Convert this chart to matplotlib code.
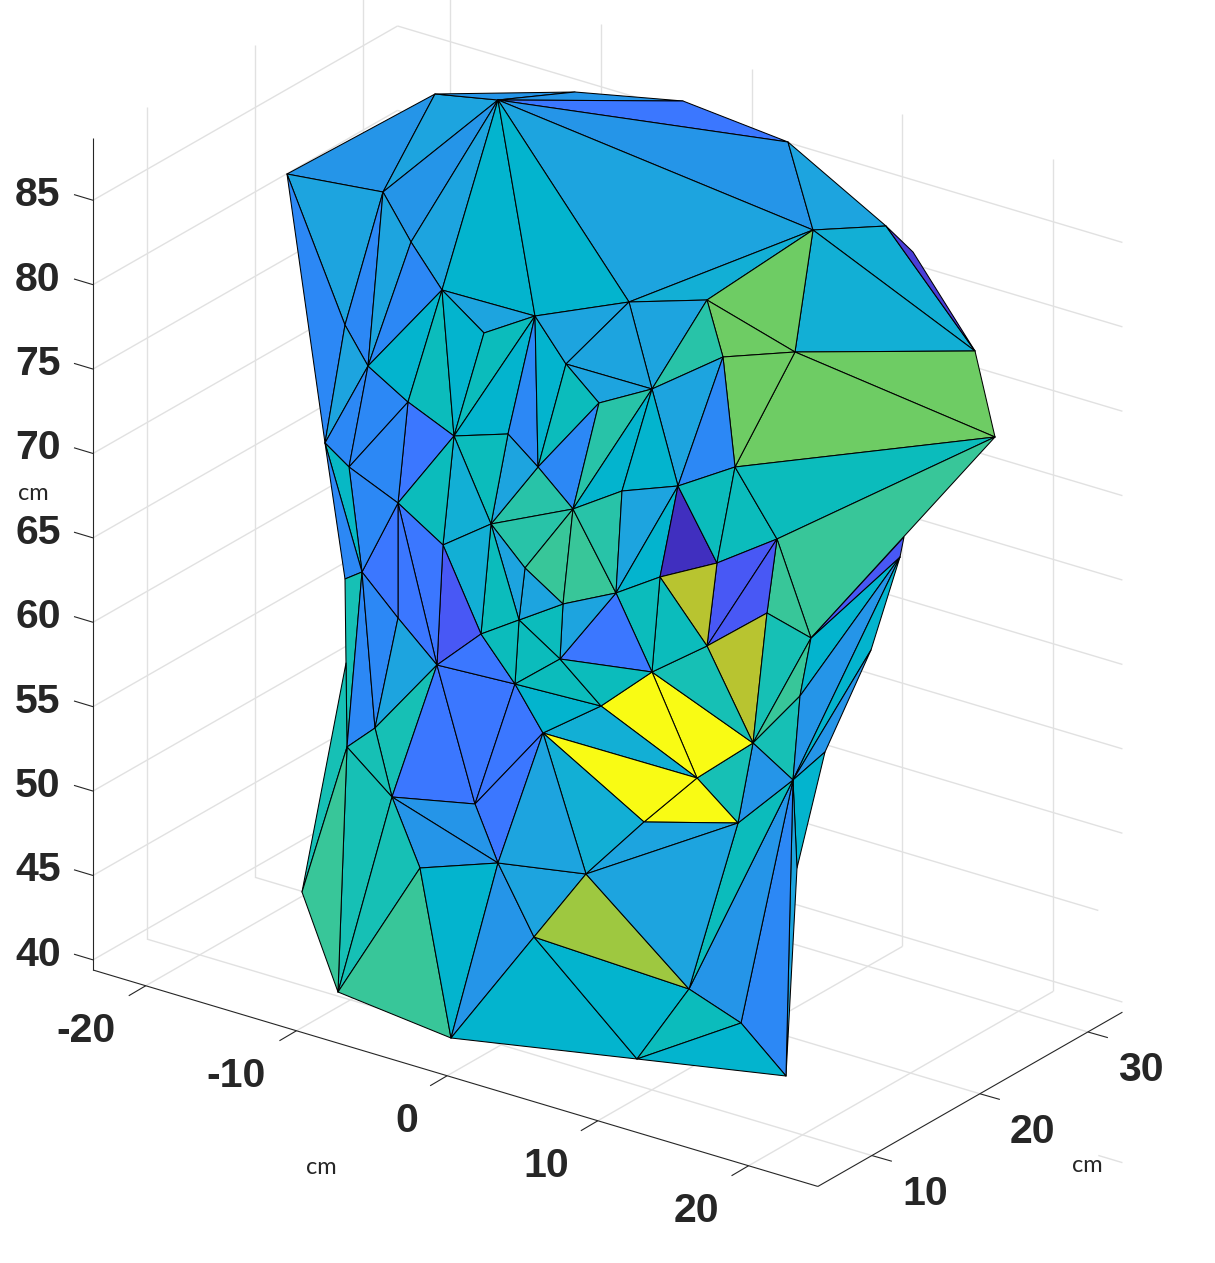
import numpy as np
import matplotlib
matplotlib.use("Agg")
import matplotlib.pyplot as plt
from matplotlib.colors import LinearSegmentedColormap

# Surface nodes (projected view coordinates)
node_x = [287,435,498,575,683,788,813,886,913,975,995,795,707,629,723,735,383,411,442,345,368,535,484,566,599,652,
          325,349,408,454,508,538,398,491,573,622,678,443,525,362,345,398,481,519,563,616,660,717,777,904,900,767,
          811,707,652,560,515,437,346,375,347,392,475,543,601,697,753,800,871,825,793,738,644,498,420,586,302,534,
          797,689,741,338,451,637,786]
node_y = [174,94,100,92,101,142,230,226,252,351,437,352,300,302,357,467,192,242,290,325,366,316,333,364,403,389,
          443,467,402,436,434,467,503,524,509,491,486,545,568,572,579,618,634,620,604,593,577,563,539,537,557,613,
          638,646,672,659,684,665,663,728,747,797,804,733,706,778,743,696,650,752,780,823,822,863,868,874,892,937,
          868,989,1023,992,1038,1059,1076]

triangles = [
 (0,1,16),(1,2,16),(1,2,3),(2,3,4),(2,4,5),(2,5,6),(2,6,13),(6,12,13),(5,7,6),(6,7,9),(7,8,9),(6,9,11),
 (6,11,12),(12,11,14),(11,9,10),(11,10,15),(11,15,14),(13,12,25),(12,14,25),(25,14,36),(14,15,36),
 (16,2,17),(17,2,18),(18,2,21),(21,2,13),(18,21,22),(0,16,19),(0,19,26),(16,20,19),(16,17,20),(17,18,20),
 (19,20,26),(26,20,27),(20,28,27),(20,18,28),(18,29,28),(18,22,29),(22,21,29),(21,30,29),(21,31,30),
 (21,23,31),(21,13,23),(23,13,25),(23,25,24),(23,24,31),(24,34,31),(24,25,34),(25,35,34),(25,36,35),
 (31,34,33),(30,31,33),(29,30,33),(29,33,37),(28,29,32),(27,28,32),(32,29,37),(33,34,38),(34,44,38),
 (34,45,44),(34,35,45),(35,36,45),(36,46,45),(36,47,46),(36,15,47),(15,48,47),(15,10,48),(48,10,52),
 (48,52,51),(47,48,53),(48,51,53),(46,47,53),(53,51,66),(51,52,66),(52,67,66),(66,67,70),(52,50,67),
 (52,49,50),(67,50,70),(70,50,68),(70,68,69),(70,69,78),(70,78,84),(70,84,80),(70,80,79),(70,79,71),
 (66,70,71),(65,66,71),(65,71,72),(54,66,65),(64,54,65),(63,64,65),(63,65,72),(53,66,54),(46,53,54),
 (45,46,54),(45,54,55),(44,45,55),(43,44,55),(43,55,56),(38,44,43),(33,38,43),(33,43,42),(37,33,42),
 (37,42,57),(32,37,57),(32,57,41),(39,32,41),(27,32,39),(26,27,39),(26,39,40),(40,39,60),(58,60,76),
 (39,59,60),(39,41,59),(41,57,59),(59,57,61),(60,59,61),(57,62,61),(57,56,62),(57,42,56),(42,43,56),
 (56,63,62),(62,63,73),(61,62,73),(61,73,74),(60,61,81),(61,74,81),(74,82,81),(76,60,81),(74,73,82),
 (73,77,82),(73,75,77),(82,77,83),(77,79,83),(75,79,77),(63,72,75),(63,75,73),(56,64,63),(56,55,64),
 (55,54,64),(75,72,71),(75,71,79),(79,80,83),(80,84,83),
]
face_values = [
 .26,.30,.26,.26,.17,.26,.30,.33,.30,.33,.09,.33,
 .60,.60,.60,.60,.60,.30,.47,.30,.22,
 .26,.30,.36,.36,.30,.30,.22,.22,.30,.22,
 .30,.22,.22,.36,.40,.36,.40,.36,.22,
 .36,.30,.30,.30,.40,.22,.47,.36,.36,
 .47,.30,.40,.33,.17,.22,.40,.47,.50,
 .50,.47,.30,.36,.05,.40,.40,.40,.50,
 .50,.13,.13,.80,.80,.43,.50,.43,.36,
 .13,.26,.36,.26,.36,.30,.22,.26,.40,
 .26,.43,1.0,1.0,1.0,.33,1.0,.43,.40,
 .40,.17,.30,.40,.40,.30,.30,.40,.33,
 .13,.17,.17,.17,.22,.38,.22,.43,.43,
 .22,.22,.30,.43,.43,.17,.17,.17,.40,
 .17,.17,.26,.26,.43,.43,.50,.50,.36,
 .26,.30,.36,.36,.72,.33,.30,.36,.40,
 .40,.30,.30,.40,.36,
]

x_ticks = [-20, -10, 0, 10, 20]
y_ticks = [10, 20, 30]
z_ticks = [40, 45, 50, 55, 60, 65, 70, 75, 80, 85]
x_limits = (-23.5, 24.6)
y_limits = (5.0, 33.2)
z_limits = (39.4, 88.7)
axis_unit = "cm"

# Colour scale (parula-like)
cmap_pos = [0, .05, .09, .13, .17, .22, .26, .30, .33, .36, .40, .43, .47, .50, .60, .72, .80, 1]
cmap_col = ["#3E26A8", "#4030C0", "#4A3FD8", "#4858F5", "#3B78FF", "#2C88F5", "#2595E8", "#1DA5DF", "#12AFD5",
            "#03B4CE", "#0BBCBC", "#15C0B5", "#28C3A8", "#37C69A", "#6ECC64", "#9DC840", "#B8C430", "#F9FB14"]
parula = LinearSegmentedColormap.from_list("parula_like", list(zip(cmap_pos, cmap_col)))

W, H = 1215, 1263
fig = plt.figure(figsize=(W / 100, H / 100), dpi=100)
ax = fig.add_axes([0, 0, 1, 1])
ax.set_xlim(0, W)
ax.set_ylim(H, 0)
ax.axis("off")

def proj(x, y, z):
    sx = 93 + (x - x_limits[0]) * 15.07 + (y - y_limits[0]) * 10.8
    sy = 970 + (x - x_limits[0]) * 4.5 - (y - y_limits[0]) * 6.18 - (z - z_limits[0]) * 16.88
    return sx, sy

def seg(p, q, **kw):
    ax.plot([p[0], q[0]], [p[1], q[1]], solid_capstyle="butt", **kw)

GRID = dict(color="#E1E1E1", lw=1.0, zorder=1)
x0, x1 = x_limits
y0, y1 = y_limits
z0, z1 = z_limits
for x in x_ticks:
    seg(proj(x, y0, z0), proj(x, y1, z0), **GRID)
    seg(proj(x, y1, z0), proj(x, y1, z1), **GRID)
for y in y_ticks:
    seg(proj(x1, y, z0), proj(x0, y, z0), **GRID)
    seg(proj(x0, y, z0), proj(x0, y, z1), **GRID)
for z in z_ticks:
    seg(proj(x0, y0, z), proj(x0, y1, z), **GRID)
    # the 45 line stops short of the right edge; its last piece sits lower in the reference
    xe = x1 - 1.6 if z == 45 else x1
    seg(proj(x0, y1, z), proj(xe, y1, z), **GRID)
p, q = proj(x1 - 1.6, y1, 45), proj(x1, y1, 45)
seg((p[0], p[1] + 245), (q[0], q[1] + 245), **GRID)

AX = dict(color="#262626", lw=0.8, zorder=2)
seg(proj(x0, y0, z0), proj(x0, y0, z1), **AX)
seg(proj(x0, y0, z0), proj(x1, y0, z0), **AX)
seg(proj(x1, y0, z0), proj(x1, y1, z0), **AX)
for z in z_ticks:
    p = proj(x0, y0, z)
    seg(p, (p[0] - 19, p[1] - 5.7), **AX)
for x in x_ticks:
    p = proj(x, y0, z0)
    seg(p, (p[0] - 17, p[1] + 10), **AX)
for y in y_ticks:
    p = proj(x1, y, z0)
    seg(p, (p[0] + 20, p[1] + 5.7), **AX)

ax.tripcolor(np.array(node_x, float), np.array(node_y, float), np.array(triangles),
             facecolors=np.array(face_values), cmap=parula, vmin=0, vmax=1,
             edgecolors="k", linewidth=0.75, zorder=3)

LBL = dict(family="Liberation Sans", fontweight="bold", fontsize=29.5, color="#262626", va="center")
for z in z_ticks:
    p = proj(x0, y0, z)
    ax.text(38, p[1] - 5, str(z), ha="center", **LBL)
for x in x_ticks:
    p = proj(x, y0, z0)
    ax.text(p[0] - 29 - (1.5 if x < 0 else 0), p[1] + 45, str(x), ha="right", **LBL)
for y in y_ticks:
    p = proj(x1, y, z0)
    ax.text(p[0] + 53, p[1] + 38, str(y), ha="center", **LBL)

UNIT = dict(family="Lato", fontsize=17, color="#262626", ha="center", va="center")
ax.text(33, 494, axis_unit, **UNIT)
ax.text(321, 1168, axis_unit, **UNIT)
ax.text(1087, 1166, axis_unit, **UNIT)

fig.savefig("out.png", dpi=100, facecolor="white")
